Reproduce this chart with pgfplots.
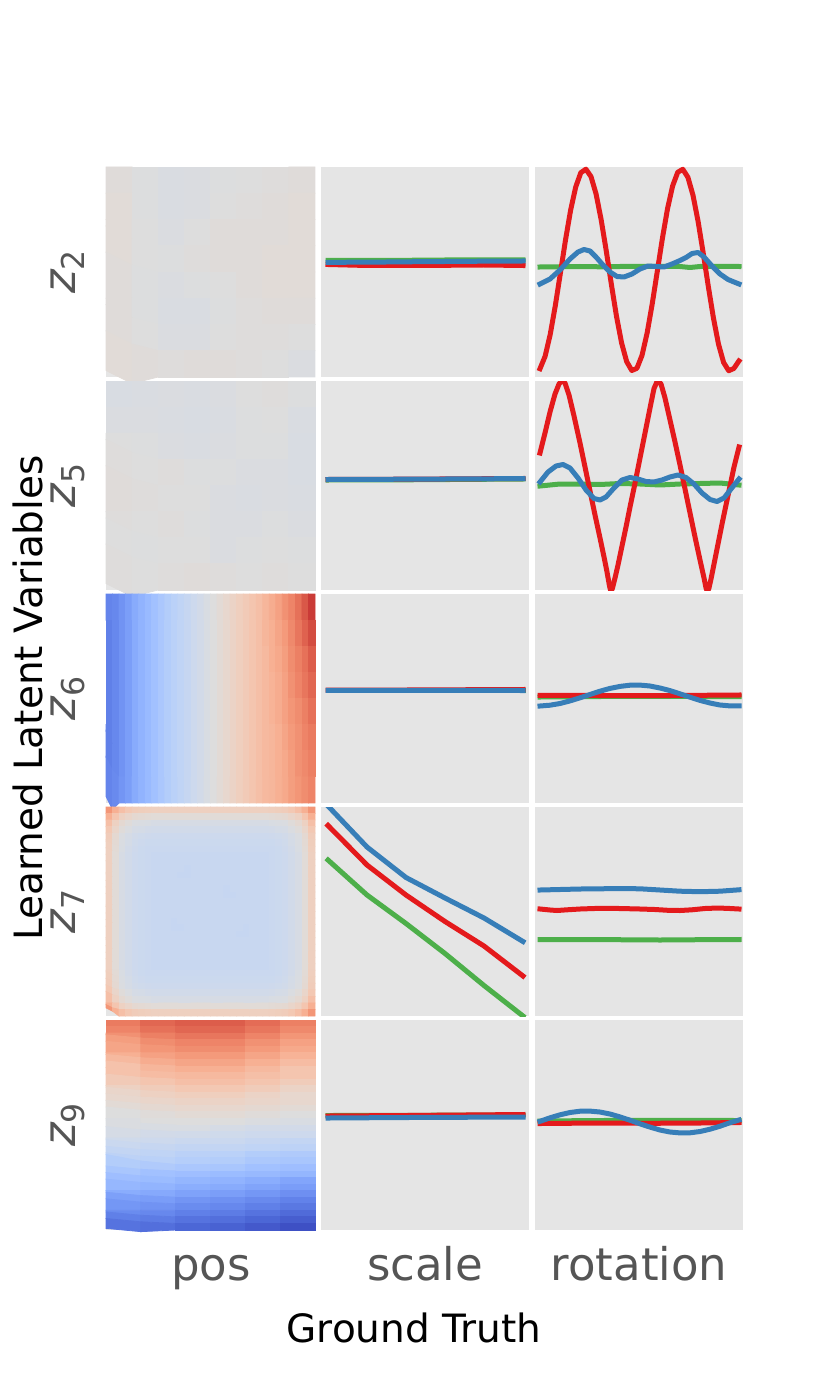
\documentclass[border=0pt]{standalone}
\usepackage{fontspec}
\setmainfont{DejaVu Sans}
\usepackage{pgfplots}
\usepackage{pgfplotstable}
\pgfplotsset{compat=1.18}
\definecolor{bg}{HTML}{E5E5E5}
\definecolor{tgray}{HTML}{555555}
\definecolor{cred}{HTML}{E41A1C}
\definecolor{cblue}{HTML}{377EB8}
\definecolor{cgreen}{HTML}{4DAF4A}
\pgfplotsset{
  colormap={coolwarm}{rgb255(0cm)=(59,76,192); rgb255(1cm)=(77,104,215); rgb255(2cm)=(98,130,234);
    rgb255(3cm)=(119,154,247); rgb255(4cm)=(141,176,254); rgb255(5cm)=(163,194,255); rgb255(6cm)=(184,208,249);
    rgb255(7cm)=(204,217,238); rgb255(8cm)=(221,221,221); rgb255(9cm)=(236,211,197); rgb255(10cm)=(245,196,173);
    rgb255(11cm)=(247,177,148); rgb255(12cm)=(244,154,123); rgb255(13cm)=(236,127,99); rgb255(14cm)=(222,96,77);
    rgb255(15cm)=(203,62,56); rgb255(16cm)=(180,4,38)},
  cell/.style={scale only axis, anchor=north west, axis background/.style={fill=bg},
    axis line style={draw=none}, ticks=none, y dir=reverse, clip=true},
  hm/.style={cell, clip=false, enlargelimits=false, colormap name=coolwarm, point meta min=0, point meta max=1},
  ln/.style={line width=2.5pt, line join=round, line cap=rect, mark=none},
}
% heat maps: one value per cell, rows written from top to bottom
\pgfplotstableread[row sep=\\]{c\\
0.51\\0.495\\0.485\\0.49\\0.495\\0.50\\0.505\\0.51\\
0.515\\0.495\\0.485\\0.49\\0.50\\0.505\\0.51\\0.515\\
0.515\\0.50\\0.49\\0.50\\0.51\\0.51\\0.51\\0.515\\
0.515\\0.50\\0.495\\0.505\\0.51\\0.51\\0.515\\0.515\\
0.51\\0.495\\0.49\\0.495\\0.50\\0.51\\0.515\\0.515\\
0.51\\0.495\\0.485\\0.485\\0.495\\0.505\\0.51\\0.51\\
0.51\\0.50\\0.49\\0.49\\0.50\\0.505\\0.505\\0.50\\
0.515\\0.51\\0.505\\0.51\\0.51\\0.505\\0.50\\0.49\\
}\ztwo
\pgfplotstableread[row sep=\\]{c\\
0.48\\0.485\\0.49\\0.485\\0.49\\0.50\\0.505\\0.495\\
0.49\\0.49\\0.485\\0.48\\0.485\\0.495\\0.50\\0.485\\
0.50\\0.495\\0.49\\0.485\\0.49\\0.495\\0.495\\0.48\\
0.505\\0.50\\0.505\\0.495\\0.495\\0.49\\0.49\\0.48\\
0.51\\0.505\\0.50\\0.50\\0.49\\0.485\\0.49\\0.485\\
0.505\\0.50\\0.505\\0.495\\0.49\\0.49\\0.495\\0.49\\
0.50\\0.495\\0.50\\0.50\\0.49\\0.495\\0.50\\0.495\\
0.505\\0.50\\0.505\\0.51\\0.505\\0.50\\0.505\\0.50\\
}\zfive
\pgfplotstableread[row sep=\\]{c\\
0.13\\0.14\\0.17\\0.20\\0.235\\0.26\\0.285\\0.31\\0.335\\0.36\\0.38\\0.40\\0.42\\0.44\\0.46\\0.48\\0.50\\0.52\\0.54\\0.56\\0.58\\0.60\\0.62\\0.64\\0.67\\0.70\\0.73\\0.77\\0.80\\0.84\\0.89\\0.94\\
0.12\\0.14\\0.17\\0.20\\0.235\\0.26\\0.285\\0.31\\0.335\\0.36\\0.38\\0.40\\0.42\\0.44\\0.46\\0.48\\0.50\\0.52\\0.54\\0.56\\0.58\\0.60\\0.62\\0.64\\0.67\\0.69\\0.72\\0.75\\0.79\\0.83\\0.87\\0.91\\
0.12\\0.14\\0.17\\0.20\\0.235\\0.26\\0.285\\0.31\\0.335\\0.36\\0.38\\0.40\\0.42\\0.44\\0.46\\0.48\\0.50\\0.52\\0.54\\0.56\\0.58\\0.60\\0.62\\0.64\\0.66\\0.69\\0.71\\0.74\\0.78\\0.81\\0.84\\0.88\\
0.12\\0.14\\0.17\\0.20\\0.235\\0.26\\0.285\\0.31\\0.335\\0.36\\0.38\\0.40\\0.42\\0.44\\0.46\\0.48\\0.50\\0.52\\0.54\\0.56\\0.58\\0.60\\0.62\\0.64\\0.66\\0.68\\0.70\\0.73\\0.77\\0.80\\0.83\\0.86\\
0.12\\0.14\\0.17\\0.20\\0.235\\0.26\\0.285\\0.31\\0.335\\0.36\\0.38\\0.40\\0.42\\0.44\\0.46\\0.48\\0.50\\0.52\\0.54\\0.56\\0.58\\0.60\\0.62\\0.64\\0.66\\0.68\\0.70\\0.73\\0.76\\0.78\\0.81\\0.84\\
0.12\\0.14\\0.17\\0.20\\0.235\\0.26\\0.285\\0.31\\0.335\\0.36\\0.38\\0.40\\0.42\\0.44\\0.46\\0.48\\0.50\\0.52\\0.54\\0.56\\0.58\\0.60\\0.62\\0.64\\0.66\\0.67\\0.69\\0.72\\0.75\\0.77\\0.80\\0.82\\
0.12\\0.14\\0.17\\0.20\\0.235\\0.26\\0.285\\0.31\\0.335\\0.36\\0.38\\0.40\\0.42\\0.44\\0.46\\0.48\\0.50\\0.52\\0.54\\0.56\\0.58\\0.60\\0.62\\0.64\\0.66\\0.67\\0.69\\0.71\\0.74\\0.77\\0.79\\0.81\\
0.13\\0.145\\0.175\\0.20\\0.235\\0.26\\0.285\\0.31\\0.335\\0.36\\0.38\\0.40\\0.42\\0.44\\0.46\\0.48\\0.50\\0.52\\0.54\\0.56\\0.58\\0.60\\0.62\\0.64\\0.66\\0.67\\0.69\\0.71\\0.74\\0.76\\0.78\\0.80\\
}\zsix
\pgfplotstableread[row sep=\\]{c\\
0.76\\0.69\\0.64\\0.61\\0.59\\0.585\\0.58\\0.575\\0.575\\0.575\\0.575\\0.575\\0.575\\0.575\\0.575\\0.575\\0.575\\0.575\\0.575\\0.575\\0.575\\0.575\\0.575\\0.575\\0.575\\0.58\\0.585\\0.59\\0.61\\0.64\\0.69\\0.76\\
0.69\\0.62\\0.57\\0.55\\0.53\\0.525\\0.52\\0.515\\0.515\\0.515\\0.515\\0.515\\0.515\\0.515\\0.515\\0.515\\0.515\\0.515\\0.515\\0.515\\0.515\\0.515\\0.515\\0.515\\0.515\\0.52\\0.525\\0.53\\0.55\\0.57\\0.62\\0.69\\
0.64\\0.57\\0.53\\0.51\\0.49\\0.485\\0.48\\0.475\\0.475\\0.475\\0.475\\0.475\\0.475\\0.475\\0.475\\0.475\\0.475\\0.475\\0.475\\0.475\\0.475\\0.475\\0.475\\0.475\\0.475\\0.48\\0.485\\0.49\\0.51\\0.53\\0.57\\0.64\\
0.61\\0.55\\0.51\\0.49\\0.47\\0.465\\0.46\\0.455\\0.455\\0.455\\0.455\\0.455\\0.455\\0.455\\0.455\\0.455\\0.455\\0.455\\0.455\\0.455\\0.455\\0.455\\0.455\\0.455\\0.455\\0.46\\0.465\\0.47\\0.49\\0.51\\0.55\\0.61\\
0.59\\0.53\\0.49\\0.47\\0.455\\0.45\\0.445\\0.44\\0.44\\0.44\\0.44\\0.44\\0.44\\0.44\\0.44\\0.44\\0.44\\0.44\\0.44\\0.44\\0.44\\0.44\\0.44\\0.44\\0.44\\0.445\\0.45\\0.455\\0.47\\0.49\\0.53\\0.59\\
0.585\\0.525\\0.485\\0.465\\0.45\\0.44\\0.435\\0.435\\0.435\\0.435\\0.435\\0.435\\0.435\\0.435\\0.435\\0.435\\0.435\\0.435\\0.435\\0.435\\0.435\\0.435\\0.435\\0.435\\0.435\\0.435\\0.44\\0.45\\0.465\\0.485\\0.525\\0.585\\
0.58\\0.52\\0.48\\0.46\\0.445\\0.435\\0.43\\0.43\\0.43\\0.43\\0.43\\0.43\\0.43\\0.43\\0.43\\0.43\\0.43\\0.43\\0.43\\0.43\\0.43\\0.43\\0.43\\0.43\\0.43\\0.43\\0.435\\0.445\\0.46\\0.48\\0.52\\0.58\\
0.575\\0.515\\0.475\\0.455\\0.44\\0.435\\0.43\\0.425\\0.425\\0.425\\0.425\\0.425\\0.425\\0.425\\0.425\\0.425\\0.425\\0.425\\0.425\\0.425\\0.425\\0.425\\0.425\\0.425\\0.425\\0.43\\0.435\\0.44\\0.455\\0.475\\0.515\\0.575\\
0.575\\0.515\\0.475\\0.455\\0.44\\0.435\\0.43\\0.425\\0.425\\0.425\\0.425\\0.425\\0.425\\0.425\\0.425\\0.425\\0.425\\0.425\\0.425\\0.425\\0.425\\0.425\\0.425\\0.425\\0.425\\0.43\\0.435\\0.44\\0.455\\0.475\\0.515\\0.575\\
0.575\\0.515\\0.475\\0.455\\0.44\\0.435\\0.43\\0.425\\0.425\\0.425\\0.425\\0.425\\0.42\\0.425\\0.425\\0.425\\0.425\\0.425\\0.425\\0.425\\0.425\\0.425\\0.425\\0.425\\0.425\\0.43\\0.435\\0.44\\0.455\\0.475\\0.515\\0.575\\
0.575\\0.515\\0.475\\0.455\\0.44\\0.435\\0.43\\0.425\\0.425\\0.425\\0.425\\0.42\\0.42\\0.425\\0.425\\0.425\\0.425\\0.425\\0.425\\0.425\\0.425\\0.425\\0.425\\0.425\\0.425\\0.43\\0.435\\0.44\\0.455\\0.475\\0.515\\0.575\\
0.575\\0.515\\0.475\\0.455\\0.44\\0.435\\0.43\\0.425\\0.425\\0.425\\0.425\\0.425\\0.425\\0.425\\0.425\\0.425\\0.425\\0.425\\0.425\\0.425\\0.425\\0.425\\0.425\\0.425\\0.425\\0.43\\0.435\\0.44\\0.455\\0.475\\0.515\\0.575\\
0.575\\0.515\\0.475\\0.455\\0.44\\0.435\\0.43\\0.425\\0.425\\0.425\\0.425\\0.425\\0.425\\0.425\\0.425\\0.425\\0.425\\0.425\\0.42\\0.425\\0.425\\0.425\\0.425\\0.425\\0.425\\0.43\\0.435\\0.44\\0.455\\0.475\\0.515\\0.575\\
0.575\\0.515\\0.475\\0.455\\0.44\\0.435\\0.43\\0.425\\0.425\\0.425\\0.425\\0.425\\0.425\\0.425\\0.425\\0.425\\0.425\\0.425\\0.42\\0.42\\0.425\\0.425\\0.425\\0.425\\0.425\\0.43\\0.435\\0.44\\0.455\\0.475\\0.515\\0.575\\
0.575\\0.515\\0.475\\0.455\\0.44\\0.435\\0.43\\0.425\\0.425\\0.425\\0.425\\0.425\\0.425\\0.425\\0.425\\0.425\\0.425\\0.425\\0.425\\0.425\\0.425\\0.425\\0.425\\0.425\\0.425\\0.43\\0.435\\0.44\\0.455\\0.475\\0.515\\0.575\\
0.575\\0.515\\0.475\\0.455\\0.44\\0.435\\0.43\\0.425\\0.425\\0.425\\0.425\\0.425\\0.425\\0.425\\0.425\\0.425\\0.425\\0.425\\0.425\\0.425\\0.425\\0.425\\0.425\\0.425\\0.425\\0.43\\0.435\\0.44\\0.455\\0.475\\0.515\\0.575\\
0.575\\0.515\\0.475\\0.455\\0.44\\0.435\\0.43\\0.425\\0.425\\0.425\\0.425\\0.425\\0.425\\0.425\\0.425\\0.425\\0.425\\0.425\\0.425\\0.425\\0.425\\0.425\\0.425\\0.425\\0.425\\0.43\\0.435\\0.44\\0.455\\0.475\\0.515\\0.575\\
0.575\\0.515\\0.475\\0.455\\0.44\\0.435\\0.43\\0.425\\0.425\\0.425\\0.42\\0.425\\0.425\\0.425\\0.425\\0.425\\0.425\\0.425\\0.425\\0.425\\0.425\\0.425\\0.425\\0.425\\0.425\\0.43\\0.435\\0.44\\0.455\\0.475\\0.515\\0.575\\
0.575\\0.515\\0.475\\0.455\\0.44\\0.435\\0.43\\0.425\\0.425\\0.425\\0.42\\0.42\\0.425\\0.425\\0.425\\0.425\\0.425\\0.425\\0.425\\0.425\\0.425\\0.42\\0.425\\0.425\\0.425\\0.43\\0.435\\0.44\\0.455\\0.475\\0.515\\0.575\\
0.575\\0.515\\0.475\\0.455\\0.44\\0.435\\0.43\\0.425\\0.425\\0.425\\0.425\\0.425\\0.425\\0.425\\0.425\\0.425\\0.425\\0.425\\0.425\\0.425\\0.42\\0.42\\0.425\\0.425\\0.425\\0.43\\0.435\\0.44\\0.455\\0.475\\0.515\\0.575\\
0.575\\0.515\\0.475\\0.455\\0.44\\0.435\\0.43\\0.425\\0.425\\0.425\\0.425\\0.425\\0.425\\0.425\\0.425\\0.425\\0.425\\0.425\\0.425\\0.425\\0.425\\0.425\\0.425\\0.425\\0.425\\0.43\\0.435\\0.44\\0.455\\0.475\\0.515\\0.575\\
0.575\\0.515\\0.475\\0.455\\0.44\\0.435\\0.43\\0.425\\0.425\\0.425\\0.425\\0.425\\0.425\\0.425\\0.425\\0.425\\0.425\\0.425\\0.425\\0.425\\0.425\\0.425\\0.425\\0.425\\0.425\\0.43\\0.435\\0.44\\0.455\\0.475\\0.515\\0.575\\
0.575\\0.515\\0.475\\0.455\\0.44\\0.435\\0.43\\0.425\\0.425\\0.425\\0.425\\0.425\\0.425\\0.425\\0.425\\0.425\\0.425\\0.425\\0.425\\0.425\\0.425\\0.425\\0.425\\0.425\\0.425\\0.43\\0.435\\0.44\\0.455\\0.475\\0.515\\0.575\\
0.575\\0.515\\0.475\\0.455\\0.44\\0.435\\0.43\\0.425\\0.425\\0.425\\0.425\\0.425\\0.425\\0.425\\0.425\\0.425\\0.425\\0.425\\0.425\\0.425\\0.425\\0.425\\0.425\\0.425\\0.425\\0.43\\0.435\\0.44\\0.455\\0.475\\0.515\\0.575\\
0.575\\0.515\\0.475\\0.455\\0.44\\0.435\\0.43\\0.425\\0.425\\0.425\\0.425\\0.425\\0.425\\0.425\\0.425\\0.425\\0.425\\0.425\\0.425\\0.425\\0.425\\0.425\\0.425\\0.425\\0.425\\0.43\\0.435\\0.44\\0.455\\0.475\\0.515\\0.575\\
0.58\\0.52\\0.48\\0.46\\0.445\\0.435\\0.43\\0.43\\0.43\\0.43\\0.43\\0.43\\0.43\\0.43\\0.43\\0.43\\0.43\\0.43\\0.43\\0.43\\0.43\\0.43\\0.43\\0.43\\0.43\\0.43\\0.435\\0.445\\0.46\\0.48\\0.52\\0.58\\
0.585\\0.525\\0.485\\0.465\\0.45\\0.44\\0.435\\0.435\\0.435\\0.435\\0.435\\0.435\\0.435\\0.435\\0.435\\0.435\\0.435\\0.435\\0.435\\0.435\\0.435\\0.435\\0.435\\0.435\\0.435\\0.435\\0.44\\0.45\\0.465\\0.485\\0.525\\0.585\\
0.59\\0.53\\0.49\\0.47\\0.455\\0.45\\0.445\\0.44\\0.44\\0.44\\0.44\\0.44\\0.44\\0.44\\0.44\\0.44\\0.44\\0.44\\0.44\\0.44\\0.44\\0.44\\0.44\\0.44\\0.44\\0.445\\0.45\\0.455\\0.47\\0.49\\0.53\\0.59\\
0.61\\0.55\\0.51\\0.49\\0.47\\0.465\\0.46\\0.455\\0.455\\0.455\\0.455\\0.455\\0.455\\0.455\\0.455\\0.455\\0.455\\0.455\\0.455\\0.455\\0.455\\0.455\\0.455\\0.455\\0.455\\0.46\\0.465\\0.47\\0.49\\0.51\\0.55\\0.61\\
0.64\\0.57\\0.53\\0.51\\0.49\\0.485\\0.48\\0.475\\0.475\\0.475\\0.475\\0.475\\0.475\\0.475\\0.475\\0.475\\0.475\\0.475\\0.475\\0.475\\0.475\\0.475\\0.475\\0.475\\0.475\\0.48\\0.485\\0.49\\0.51\\0.53\\0.57\\0.64\\
0.69\\0.62\\0.57\\0.55\\0.53\\0.525\\0.52\\0.515\\0.515\\0.515\\0.515\\0.515\\0.515\\0.515\\0.515\\0.515\\0.515\\0.515\\0.515\\0.515\\0.515\\0.515\\0.515\\0.515\\0.515\\0.52\\0.525\\0.53\\0.55\\0.57\\0.62\\0.69\\
0.76\\0.69\\0.64\\0.61\\0.59\\0.585\\0.58\\0.575\\0.575\\0.575\\0.575\\0.575\\0.575\\0.575\\0.575\\0.575\\0.575\\0.575\\0.575\\0.575\\0.575\\0.575\\0.575\\0.575\\0.575\\0.58\\0.585\\0.59\\0.61\\0.64\\0.69\\0.76\\
}\zseven
\pgfplotstableread[row sep=\\]{c\\
0.82\\0.86\\0.88\\0.88\\0.85\\0.81\\
0.80\\0.84\\0.86\\0.86\\0.83\\0.79\\
0.77\\0.81\\0.83\\0.83\\0.80\\0.76\\
0.74\\0.78\\0.80\\0.80\\0.77\\0.73\\
0.72\\0.76\\0.78\\0.78\\0.75\\0.71\\
0.69\\0.73\\0.75\\0.75\\0.72\\0.68\\
0.66\\0.70\\0.72\\0.72\\0.69\\0.65\\
0.63\\0.67\\0.69\\0.69\\0.66\\0.62\\
0.63\\0.65\\0.66\\0.66\\0.64\\0.62\\
0.60\\0.62\\0.64\\0.64\\0.62\\0.59\\
0.57\\0.59\\0.61\\0.61\\0.59\\0.56\\
0.55\\0.57\\0.58\\0.58\\0.56\\0.54\\
0.54\\0.55\\0.56\\0.56\\0.55\\0.54\\
0.52\\0.53\\0.54\\0.54\\0.53\\0.52\\
0.50\\0.51\\0.52\\0.52\\0.51\\0.50\\
0.49\\0.50\\0.50\\0.50\\0.49\\0.48\\
0.49\\0.48\\0.48\\0.47\\0.46\\0.46\\
0.47\\0.46\\0.455\\0.45\\0.44\\0.44\\
0.45\\0.44\\0.43\\0.43\\0.42\\0.41\\
0.43\\0.42\\0.41\\0.41\\0.40\\0.39\\
0.41\\0.40\\0.385\\0.38\\0.36\\0.35\\
0.39\\0.38\\0.365\\0.36\\0.34\\0.33\\
0.36\\0.35\\0.335\\0.33\\0.31\\0.30\\
0.33\\0.31\\0.30\\0.29\\0.28\\0.27\\
0.30\\0.29\\0.27\\0.26\\0.24\\0.22\\
0.275\\0.265\\0.245\\0.235\\0.215\\0.195\\
0.24\\0.23\\0.21\\0.20\\0.18\\0.16\\
0.205\\0.195\\0.175\\0.165\\0.145\\0.125\\
0.18\\0.17\\0.15\\0.14\\0.12\\0.10\\
0.15\\0.14\\0.12\\0.11\\0.09\\0.07\\
0.12\\0.11\\0.09\\0.08\\0.06\\0.04\\
0.09\\0.08\\0.06\\0.05\\0.03\\0.01\\
}\znine
\newcommand{\zlab}[1]{{\itshape z}\raisebox{-0.22em}{\fontsize{15.75}{16}\selectfont #1}}
\begin{document}
\begin{tikzpicture}
\useasboundingbox (0pt,0pt) rectangle (415pt,-692pt);
% ---------- column 1: pos heat maps ----------
\begin{axis}[hm, at={(53pt,-83.5pt)}, width=104.5pt, height=105pt, xmin=-0.5, xmax=7.5, ymin=-0.5, ymax=7.5]
\addplot[matrix plot*, mesh/cols=8, mesh/rows=8, point meta=explicit] table[x index=0, y index=0, x expr={mod(\coordindex,8)}, y expr={floor(\coordindex/8)}, meta=c] {\ztwo};
\end{axis}
\begin{axis}[hm, at={(53pt,-190.5pt)}, width=104.5pt, height=104.5pt, xmin=-0.5, xmax=7.5, ymin=-0.5, ymax=7.5]
\addplot[matrix plot*, mesh/cols=8, mesh/rows=8, point meta=explicit] table[x index=0, y index=0, x expr={mod(\coordindex,8)}, y expr={floor(\coordindex/8)}, meta=c] {\zfive};
\end{axis}
\begin{axis}[hm, at={(53pt,-297pt)}, width=104.5pt, height=104.5pt, xmin=-0.5, xmax=31.5, ymin=-0.5, ymax=7.5]
\addplot[matrix plot*, mesh/cols=32, mesh/rows=8, point meta=explicit] table[x index=0, y index=0, x expr={mod(\coordindex,32)}, y expr={floor(\coordindex/32)}, meta=c] {\zsix};
\end{axis}
\begin{axis}[hm, at={(53pt,-403.5pt)}, width=104.5pt, height=104.5pt, xmin=-0.5, xmax=31.5, ymin=-0.5, ymax=31.5]
\addplot[matrix plot*, mesh/cols=32, mesh/rows=32, point meta=explicit] table[x index=0, y index=0, x expr={mod(\coordindex,32)}, y expr={floor(\coordindex/32)}, meta=c] {\zseven};
\end{axis}
\begin{axis}[hm, at={(53pt,-510pt)}, width=104.5pt, height=105pt, xmin=-0.5, xmax=5.5, ymin=-0.5, ymax=31.5]
\addplot[matrix plot*, mesh/cols=6, mesh/rows=32, point meta=explicit] table[x index=0, y index=0, x expr={mod(\coordindex,6)}, y expr={floor(\coordindex/6)}, meta=c] {\znine};
\end{axis}
% ---------- column 2: scale ----------
\begin{axis}[cell, at={(160.5pt,-83.5pt)}, width=104pt, height=105pt, xmin=321, xmax=529, ymin=167, ymax=377]
\addplot[ln, cgreen] coordinates {(328,260.5)(367,260.5)(406,260.3)(445,260)(484,260)(523,259.8)};
\addplot[ln, cred] coordinates {(328,264.5)(367,265.5)(406,265.5)(445,265.3)(484,265)(523,265.5)};
\addplot[ln, cblue] coordinates {(328,262.3)(367,262.2)(406,261.8)(445,261.5)(484,261.2)(523,261)};
\end{axis}
\begin{axis}[cell, at={(160.5pt,-190.5pt)}, width=104pt, height=104.5pt, xmin=321, xmax=529, ymin=381, ymax=590]
\addplot[ln, cgreen] coordinates {(328,480)(406,479.8)(523,479)};
\addplot[ln, cred] coordinates {(328,479.5)(406,479.2)(523,478.5)};
\addplot[ln, cblue] coordinates {(328,479.5)(406,479.2)(523,478.6)};
\end{axis}
\begin{axis}[cell, at={(160.5pt,-297pt)}, width=104pt, height=104.5pt, xmin=321, xmax=529, ymin=594, ymax=803]
\addplot[ln, cgreen] coordinates {(328,690.5)(523,690.5)};
\addplot[ln, cred] coordinates {(328,690)(406,690)(523,689.5)};
\addplot[ln, cblue] coordinates {(328,690.3)(406,690.3)(523,690.5)};
\end{axis}
\begin{axis}[cell, at={(160.5pt,-403.5pt)}, width=104pt, height=104.5pt, xmin=321, xmax=529, ymin=807, ymax=1016]
\addplot[ln, cgreen] coordinates {(328,860)(367,895)(406,923.5)(445,953.5)(484,985.5)(523,1016)};
\addplot[ln, cred] coordinates {(328,825.5)(367,865)(406,895)(445,921.5)(484,946)(523,976)};
\addplot[ln, cblue] coordinates {(328,806)(367,847)(406,877.5)(445,898)(484,918)(523,941.5)};
\end{axis}
\begin{axis}[cell, at={(160.5pt,-510pt)}, width=104pt, height=105pt, xmin=321, xmax=529, ymin=1020, ymax=1230]
\addplot[ln, cgreen] coordinates {(328,1115.5)(406,1115.3)(523,1115)};
\addplot[ln, cred] coordinates {(328,1116)(406,1115.5)(523,1114.5)};
\addplot[ln, cblue] coordinates {(328,1118)(406,1117.5)(523,1117)};
\end{axis}
% ---------- column 3: rotation ----------
\begin{axis}[cell, at={(267.5pt,-83.5pt)}, width=104pt, height=105pt, xmin=535, xmax=743, ymin=167, ymax=377]
\addplot[ln, cgreen] coordinates {(540,267)(560,266.8)(580,266.5)(600,266.8)(620,266.5)(640,266.5)(660,266.3)(680,266.5)(690,267.5)(700,266.5)(720,266.3)(739,266.5)};
\addplot[ln, cred] coordinates {(540,368.7)(545.1,356.3)(550.2,334.5)(555.3,305.7)(560.4,273.0)(565.5,240.0)(570.6,210.2)(575.7,187.0)(580.8,172.7)(585.9,169.2)(591,176.6)(596.1,194.1)(601.2,220.0)(606.3,251.2)(611.4,284.6)(616.5,316.4)(621.6,343.0)(626.7,361.7)(631.8,370.5)(636.9,368.3)(642,355.4)(647.1,333.1)(652.2,304.0)(657.3,271.2)(662.4,238.3)(667.5,208.8)(672.6,186.0)(677.7,172.3)(682.8,169.3)(687.9,177.3)(693,195.3)(698.1,221.5)(703.2,253.0)(708.3,286.4)(713.4,317.9)(718.5,344.2)(723.6,362.5)(728.7,370.7)(733.8,368.5)(738.9,361)};
\addplot[ln, cblue] coordinates {(540,284)(550,279)(560,270)(570,259)(578,252)(584,249.5)(590,251)(596,257)(603,265)(610,272)(617,276.5)(624,277)(632,274)(640,269)(648,266)(656,266.5)(664,267)(672,264)(680,260.5)(686,257.5)(692,253.5)(698,252.5)(704,257)(712,266)(720,274)(728,279.5)(734,282)(739,284)};
\end{axis}
\begin{axis}[cell, at={(267.5pt,-190.5pt)}, width=104pt, height=104.5pt, xmin=535, xmax=743, ymin=381, ymax=590]
\addplot[ln, cgreen] coordinates {(540,486)(550,485)(560,484)(580,484)(600,484.5)(620,483.5)(640,484)(660,485)(680,484)(700,483.5)(720,483)(739,485)};
\addplot[ln, cred] coordinates {(540,453)(545,433)(550,412)(555,394)(559,384)(562,380.5)(565,383)(569,395)(574,416)(580,443)(585,467)(590,491)(595,515)(600,538)(604,557)(607,572)(609.5,586)(611,592)(612.5,588)(615,578)(618,565)(622,546)(626,527)(630,507)(634,488)(638,468)(642,448)(646,428)(650,408)(654,388.5)(657.5,380.5)(661,384)(665,398)(670,420)(675,442)(680,465)(685,489)(690,513)(695,537)(700,560)(704,578)(706,588)(707.5,592)(709,588)(711,579)(714,564)(718,544)(722,524)(726,505)(730,486)(734,467)(739,447)};
\addplot[ln, cblue] coordinates {(540,482)(548,472)(556,466)(563,464.5)(570,468)(578,478)(586,490)(594,498.5)(600,500)(606,497)(614,488)(622,480)(630,477.5)(638,479)(646,481.5)(654,482)(662,480)(670,477)(678,475)(686,477.5)(694,484)(702,493)(710,499.5)(717,501.5)(724,498)(731,489)(739,479)};
\end{axis}
\begin{axis}[cell, at={(267.5pt,-297pt)}, width=104pt, height=104.5pt, xmin=535, xmax=743, ymin=594, ymax=803]
\addplot[ln, cgreen] coordinates {(540,697)(600,696.5)(640,696.3)(700,696.5)(739,696.5)};
\addplot[ln, cred] coordinates {(540,695.3)(600,695.5)(640,695.7)(700,695.3)(739,695)};
\addplot[ln, cblue] coordinates {(540,706.0)(550,705.2)(560,703.5)(570,700.9)(580,697.8)(590,694.5)(600,691.2)(610,688.4)(620,686.4)(630,685.2)(640,685.1)(650,686.0)(660,688.0)(670,690.6)(680,693.8)(690,697.2)(700,700.4)(710,703.0)(720,705.0)(730,705.9)(739,705.9)};
\end{axis}
\begin{axis}[cell, at={(267.5pt,-403.5pt)}, width=104pt, height=104.5pt, xmin=535, xmax=743, ymin=807, ymax=1016]
\addplot[ln, cgreen] coordinates {(540,939.5)(600,939.6)(660,940)(700,939.7)(739,939.5)};
\addplot[ln, cred] coordinates {(540,909)(550,910)(557,910.5)(567,909.8)(580,909)(600,908.3)(620,908.5)(640,909)(655,909.5)(668,910.3)(680,910.5)(692,909.8)(705,908.5)(718,908)(730,908.5)(739,909)};
\addplot[ln, cblue] coordinates {(540,890)(560,889.5)(580,889)(600,888.8)(620,888.5)(640,888.8)(660,890)(680,891.2)(700,891.7)(720,891.2)(739,889.8)};
\end{axis}
\begin{axis}[cell, at={(267.5pt,-510pt)}, width=104pt, height=105pt, xmin=535, xmax=743, ymin=1020, ymax=1230]
\addplot[ln, cgreen] coordinates {(540,1121)(600,1120.5)(660,1120.3)(739,1120.5)};
\addplot[ln, cred] coordinates {(540,1123.5)(600,1123)(650,1123.3)(700,1123)(739,1122.5)};
\addplot[ln, cblue] coordinates {(540,1121.3)(550,1117.8)(560,1114.8)(570,1112.5)(580,1111.2)(590,1111.1)(600,1112.0)(610,1114.0)(620,1116.9)(630,1120.2)(640,1123.8)(650,1127.1)(660,1130.0)(670,1132.0)(680,1132.9)(690,1132.8)(700,1131.5)(710,1129.2)(720,1126.2)(730,1122.7)(739,1120)};
\end{axis}
% ---------- labels ----------
\begin{scope}[every node/.style={text=tgray, font=\fontsize{22.5}{27}\selectfont, inner sep=0pt}]
\node[anchor=base] at (105.5pt,-640pt) {pos};
\node[anchor=base] at (212.5pt,-640pt) {scale};
\node[anchor=base] at (319.5pt,-640pt) {rotation};
\node[rotate=90, anchor=base] at (37.5pt,-136pt) {\zlab{2}};
\node[rotate=90, anchor=base] at (37.5pt,-242.75pt) {\zlab{5}};
\node[rotate=90, anchor=base] at (37.5pt,-349.25pt) {\zlab{6}};
\node[rotate=90, anchor=base] at (37.5pt,-455.75pt) {\zlab{7}};
\node[rotate=90, anchor=base] at (37.5pt,-562.5pt) {\zlab{9}};
\end{scope}
\node[anchor=base, inner sep=0pt, font=\fontsize{19.5}{23}\selectfont] at (207pt,-671pt) {Ground Truth};
\node[rotate=90, anchor=base, inner sep=0pt, font=\fontsize{19.5}{23}\selectfont] at (21pt,-349pt) {Learned Latent Variables};
\end{tikzpicture}
\end{document}
